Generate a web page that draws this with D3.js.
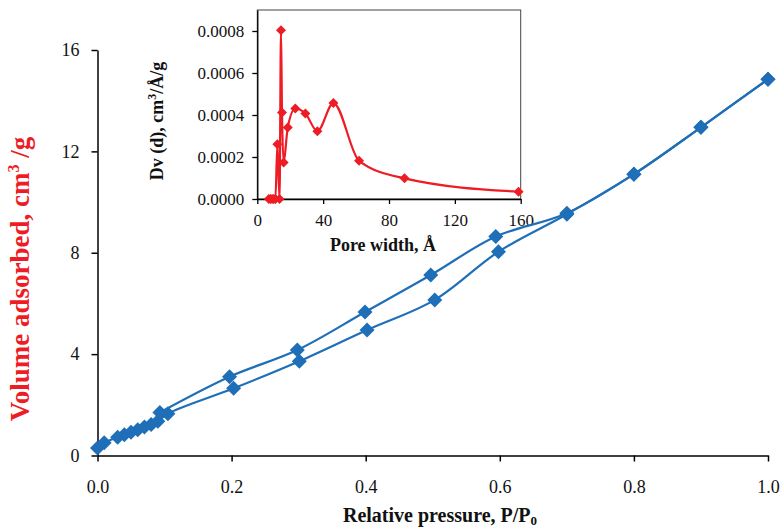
<!DOCTYPE html>
<html>
<head>
<meta charset="utf-8">
<script src="https://cdn.jsdelivr.net/npm/d3@7/dist/d3.min.js"></script>
<style>
  html, body { margin: 0; padding: 0; background: #fff; }
  svg { display: block; }
  svg text { font-family: "Liberation Serif", "Times New Roman", serif; }
</style>
</head>
<body>
<svg id="chart" width="782" height="530"></svg>
<script>
// Nitrogen isotherm: adsorption (lower) and desorption (upper) branches
const adsP = [0.0, 0.01, 0.03, 0.04, 0.05, 0.06, 0.07, 0.08, 0.09, 0.105, 0.203, 0.301, 0.402, 0.503, 0.598, 0.70, 0.80, 0.90, 1.0];
const adsV = [0.30, 0.50, 0.72, 0.82, 0.92, 1.02, 1.12, 1.22, 1.35, 1.65, 2.65, 3.72, 4.95, 6.14, 8.04, 9.52, 11.1, 12.95, 14.85];
const desP = [1.0, 0.90, 0.80, 0.70, 0.594, 0.497, 0.399, 0.298, 0.197, 0.093];
const desV = [14.85, 12.95, 11.1, 9.56, 8.64, 7.12, 5.66, 4.16, 3.11, 1.70];

// Pore size distribution (inset)
const poreW  = [7, 8, 9, 10, 11, 12.2, 13.5, 14.4, 15.0, 16.0, 18.5, 23.1, 29.2, 36.5, 46.2, 61.8, 89.4, 158.7];
const poreDv = [0, 0, 0, 0, 0, 0.000261, 0, 0.000803, 0.000412, 0.000174, 0.000341, 0.000431, 0.000407, 0.000323, 0.000457, 0.000182, 0.0000983, 0.0000347];

const mainXTicks = [0, 0.2, 0.4, 0.6, 0.8, 1.0];
const mainYTicks = [0, 4, 8, 12, 16];
const insetXTicks = [0, 40, 80, 120, 160];
const insetYTicks = [0, 0.0002, 0.0004, 0.0006, 0.0008];

const blue = "#1f6fb8";
const red = "#ee1c24";
const serif = "'Liberation Serif', 'Times New Roman', serif";

const svg = d3.select("#chart");

function diamond(r) {
  return `M0,${-r}L${r},0L0,${r}L${-r},0Z`;
}

function styleAxis(g, size, width) {
  g.attr("font-family", null).attr("font-size", null);
  g.select(".domain").attr("stroke", "#000").attr("stroke-width", width);
  g.selectAll(".tick line").attr("stroke", "#000").attr("stroke-width", width);
  g.selectAll(".tick text")
    .style("font-family", serif).style("font-size", size + "px")
    .attr("fill", "#111");
}

// ---------- main chart ----------
const x = d3.scaleLinear().domain([0, 1]).range([97.5, 768]);
const y = d3.scaleLinear().domain([0, 16]).range([455.5, 50]);

styleAxis(svg.append("g")
  .attr("transform", `translate(0,${y(0)})`)
  .call(d3.axisBottom(x).tickValues(mainXTicks).tickFormat(d3.format(".1f")).tickSizeInner(6).tickSizeOuter(0).tickPadding(19)), 18, 1.5);
styleAxis(svg.append("g")
  .attr("transform", `translate(${x(0)},0)`)
  .call(d3.axisLeft(y).tickValues(mainYTicks).tickFormat(d3.format("d")).tickSizeInner(6).tickSizeOuter(0).tickPadding(12)), 18, 1.5);

const xLab = svg.append("text")
  .attr("x", 440).attr("y", 522)
  .attr("text-anchor", "middle")
  .style("font-size", "20px").attr("font-weight", "bold").attr("fill", "#111");
xLab.append("tspan").text("Relative pressure, P/P");
xLab.append("tspan").style("font-size", "13px").attr("dy", 3).text("0");

const yLab = svg.append("text")
  .attr("transform", "translate(29,279) rotate(-90)")
  .attr("text-anchor", "middle")
  .style("font-size", "27px").attr("font-weight", "bold").attr("fill", red);
yLab.append("tspan").text("Volume adsorbed, cm");
yLab.append("tspan").style("font-size", "16px").attr("dy", -10).text("3");
yLab.append("tspan").attr("dy", 10).text(" /g");

// ---------- inset ----------
const ix = d3.scaleLinear().domain([0, 160]).range([257.3, 520.7]);
const iy = d3.scaleLinear().domain([0, 0.0009]).range([199, 10]);

svg.append("rect")
  .attr("x", ix(0)).attr("y", iy(0.0009))
  .attr("width", ix(160) - ix(0)).attr("height", iy(0) - iy(0.0009))
  .attr("fill", "#fff").attr("stroke", "#444").attr("stroke-width", 1);

styleAxis(svg.append("g")
  .attr("transform", `translate(0,${iy(0)})`)
  .call(d3.axisBottom(ix).tickValues(insetXTicks).tickFormat(d3.format("d")).tickSizeInner(5).tickSizeOuter(0).tickPadding(10)), 17, 1.3);
styleAxis(svg.append("g")
  .attr("transform", `translate(${ix(0)},0)`)
  .call(d3.axisLeft(iy).tickValues(insetYTicks).tickFormat(d3.format(".4f")).tickSizeInner(5).tickSizeOuter(0).tickPadding(8)), 17, 1.3);

svg.append("text")
  .attr("x", 383).attr("y", 251)
  .attr("text-anchor", "middle")
  .style("font-size", "18px").attr("font-weight", "bold").attr("fill", "#111")
  .text("Pore width, Å");

const iyLab = svg.append("text")
  .attr("transform", "translate(163,121) rotate(-90)")
  .attr("text-anchor", "middle")
  .style("font-size", "18px").attr("font-weight", "bold").attr("fill", "#111");
iyLab.append("tspan").text("Dv (d), cm");
iyLab.append("tspan").style("font-size", "12px").attr("dy", -7).text("3");
iyLab.append("tspan").attr("dy", 7).text("/Å/g");

const poreData = poreW.map((w, i) => [w, poreDv[i]]);
svg.append("path")
  .datum(poreData)
  .attr("fill", "none").attr("stroke", red).attr("stroke-width", 2.2)
  .attr("d", d3.line().x(d => ix(d[0])).y(d => iy(d[1])).curve(d3.curveMonotoneX));
svg.append("g").selectAll("path")
  .data(poreData).join("path")
  .attr("transform", d => `translate(${ix(d[0])},${iy(d[1])})`)
  .attr("d", diamond(5))
  .attr("fill", red);

// ---------- isotherm branches ----------
const ads = adsP.map((p, i) => [p, adsV[i]]);
const des = desP.map((p, i) => [p, desV[i]]);
const line = d3.line().x(d => x(d[0])).y(d => y(d[1])).curve(d3.curveCatmullRom.alpha(0.5));

[ads, des].forEach(series => {
  svg.append("path")
    .datum(series)
    .attr("fill", "none").attr("stroke", blue).attr("stroke-width", 2.2)
    .attr("d", line);
  svg.append("g").selectAll("path")
    .data(series).join("path")
    .attr("transform", d => `translate(${x(d[0])},${y(d[1])})`)
    .attr("d", diamond(7.5))
    .attr("fill", blue);
});
</script>
</body>
</html>
